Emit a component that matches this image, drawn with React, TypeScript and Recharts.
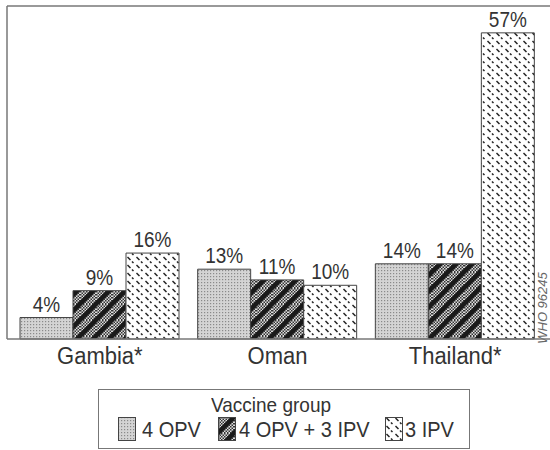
import React from 'react';
import { BarChart, Bar, XAxis, YAxis, ReferenceLine, LabelList, Legend, Customized } from 'recharts';

const countries = ['Gambia*', 'Oman', 'Thailand*'];
const opv4 = [4, 13, 14];
const opv4ipv3 = [9, 11, 14];
const ipv3 = [16, 10, 57];
const seriesNames = ['4 OPV', '4 OPV + 3 IPV', '3 IPV'];
const legendTitle = 'Vaccine group';
const stamp = 'WHO 96245';

const data = countries.map((c, i) => ({ country: c, a: opv4[i], b: opv4ipv3[i], c3: ipv3[i] }));

const FONT = '"Liberation Sans", Arial, Helvetica, sans-serif';
const TXT = '#333';
const LINE = '#777';

const Patterns = () => (
  <defs>
    <pattern id="pOpv" width="3" height="3" patternUnits="userSpaceOnUse">
      <rect width="3" height="3" fill="#d4d4d4" />
      <rect x="0" y="0" width="1.2" height="1.2" fill="#8a8a8a" />
    </pattern>
    <pattern id="pChk" width="3" height="3" patternUnits="userSpaceOnUse">
      <rect width="3" height="3" fill="#ddd" />
      <rect x="0" y="0" width="1.5" height="1.5" fill="#333" />
      <rect x="1.5" y="1.5" width="1.5" height="1.5" fill="#333" />
    </pattern>
    <pattern id="pMix" width="16" height="16" patternUnits="userSpaceOnUse">
      <rect width="16" height="16" fill="url(#pChk)" />
      <path d="M-2,18 L18,-2 M-10,10 L10,-10 M6,26 L26,6" stroke="#1a1a1a" strokeWidth="4.5" />
    </pattern>
    <pattern id="pIpv" width="9" height="8" patternUnits="userSpaceOnUse">
      <rect width="9" height="8" fill="#fff" />
      <path d="M1.5,1 L4.5,4" stroke="#222" strokeWidth="1.5" />
      <path d="M6,5.5 L7.5,7" stroke="#222" strokeWidth="1.5" />
    </pattern>
  </defs>
);

const XTick = (props: any) => {
  const { x, y, payload } = props;
  return (
    <text
      transform={`translate(${x},${y + 17}) scale(1,1.12)`}
      textAnchor="middle"
      fontFamily={FONT}
      fontSize={22}
      fill={TXT}
    >
      {payload.value}
    </text>
  );
};

const ValueLabel = (props: any) => {
  const { x, y, width, value } = props;
  const cx = x + width / 2;
  return (
    <text
      transform={`translate(${cx},${y - 6}) scale(1,1.12)`}
      textAnchor="middle"
      fontFamily={FONT}
      fontSize={19}
      fill={TXT}
    >
      {`${value}%`}
    </text>
  );
};

const Stamp = () => (
  <text
    transform="translate(547,308) rotate(-90)"
    textAnchor="middle"
    fontFamily={FONT}
    fontStyle="italic"
    fontSize={13}
    fill="#666"
  >
    {stamp}
  </text>
);

const swatchFills = ['url(#pOpv)', 'url(#pMix)', 'url(#pIpv)'];
const swatchPos = [19, 119, 286];
const textPos = [43, 140, 306];

const LegendBox = () => (
  <div
    style={{
      position: 'relative',
      width: 372,
      height: 60,
      boxSizing: 'border-box',
      border: `1.5px solid ${LINE}`,
      fontFamily: FONT,
      color: TXT,
    }}
  >
    <div style={{ position: 'absolute', left: 112, top: 4, fontSize: 19, lineHeight: '22px', whiteSpace: 'nowrap', transform: 'scaleY(1.1)' }}>
      {legendTitle}
    </div>
    {seriesNames.map((n, i) => (
      <React.Fragment key={n}>
        <svg style={{ position: 'absolute', left: swatchPos[i], top: 27 }} width={18} height={24}>
          <rect x={0.5} y={0.5} width={17} height={23} fill={swatchFills[i]} stroke="#444" strokeWidth={1} />
        </svg>
        <div style={{ position: 'absolute', left: textPos[i], top: 28, fontSize: 20, lineHeight: '23px', whiteSpace: 'nowrap', transform: 'scaleY(1.1)' }}>
          {n}
        </div>
      </React.Fragment>
    ))}
  </div>
);

export default function App() {
  return (
    <div style={{ position: 'absolute', left: 0, top: 0, width: 550, height: 450, background: '#fff' }}>
      <BarChart
        width={550}
        height={450}
        data={data}
        margin={{ top: 6, right: 0, bottom: 81, left: 6 }}
        barCategoryGap={9}
        barGap={0}
      >
        <Patterns />
        <XAxis
          dataKey="country"
          axisLine={{ stroke: LINE, strokeWidth: 1.5 }}
          tickLine={false}
          tick={<XTick />}
          padding={{ left: 4, right: 6 }}
          height={30}
          interval={0}
        />
        <YAxis
          width={1}
          domain={[0, 62]}
          tick={false}
          tickLine={false}
          axisLine={{ stroke: LINE, strokeWidth: 1.5 }}
        />
        <ReferenceLine y={62} stroke={LINE} strokeWidth={1.5} />
        <Bar dataKey="a" name={seriesNames[0]} fill="url(#pOpv)" stroke="#444" strokeWidth={1} isAnimationActive={false}>
          <LabelList dataKey="a" content={<ValueLabel />} />
        </Bar>
        <Bar dataKey="b" name={seriesNames[1]} fill="url(#pMix)" stroke="#444" strokeWidth={1} isAnimationActive={false}>
          <LabelList dataKey="b" content={<ValueLabel />} />
        </Bar>
        <Bar dataKey="c3" name={seriesNames[2]} fill="url(#pIpv)" stroke="#444" strokeWidth={1} isAnimationActive={false}>
          <LabelList dataKey="c3" content={<ValueLabel />} />
        </Bar>
        <Customized component={Stamp} />
        <Legend
          layout="vertical"
          verticalAlign="middle"
          align="center"
          content={() => <LegendBox />}
          wrapperStyle={{ position: 'absolute', left: 98, top: 389, width: 372, height: 60 }}
        />
      </BarChart>
    </div>
  );
}
